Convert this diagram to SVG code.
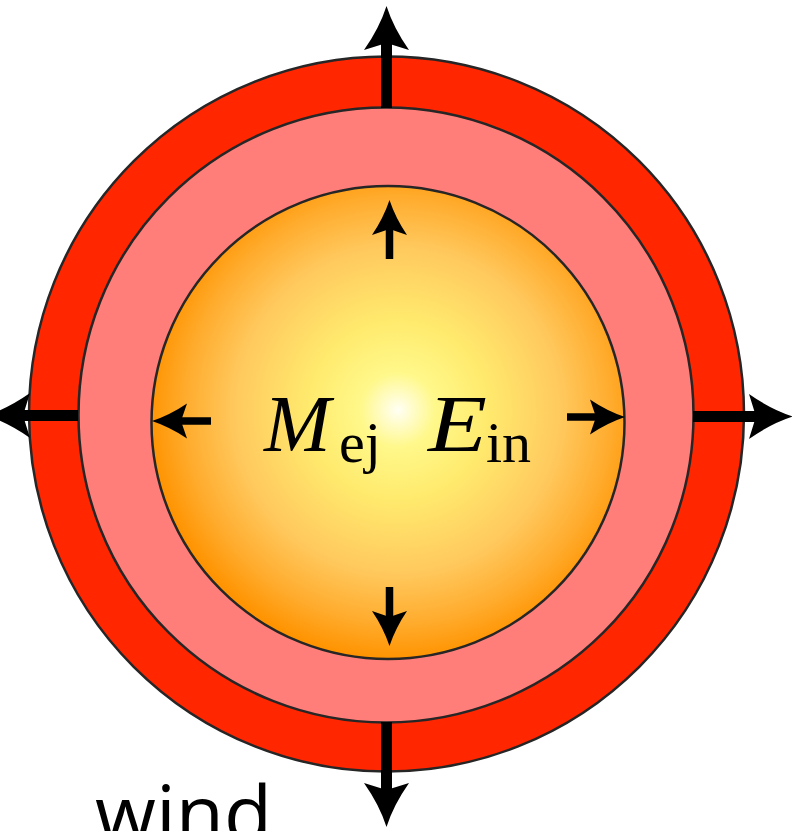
<svg xmlns="http://www.w3.org/2000/svg" xmlns:xlink="http://www.w3.org/1999/xlink" width="792" height="831" viewBox="0 0 792 831">
  <style>
    .ring { stroke: #262626; stroke-width: 2.5; }
    .shaftO { stroke: #000; stroke-width: 11; fill: none; }
    .shaftI { stroke: #000; stroke-width: 7.5; fill: none; }
    .head { fill: #000; }
    .math { font-family: "Liberation Serif", "DejaVu Serif", serif; fill: #000; }
    .it { font-style: italic; }
    .lbl { font-family: "Open Sans", "DejaVu Sans", sans-serif; fill: #000; }
  </style>
  <defs>
    <radialGradient id="coreGrad" cx="398" cy="410" r="250" gradientUnits="userSpaceOnUse">
      <stop offset="0" stop-color="#FFFFF4"/>
      <stop offset="0.15" stop-color="#FFF88A"/>
      <stop offset="0.35" stop-color="#FFEB6E"/>
      <stop offset="0.65" stop-color="#FFC95E"/>
      <stop offset="0.85" stop-color="#FFAC2E"/>
      <stop offset="1" stop-color="#FF9300"/>
    </radialGradient>
    <path id="headO" class="head" d="M0,0 Q7,22 22.5,44 L0,37 L-22.5,44 Q-7,22 0,0 Z"/>
    <path id="headI" class="head" d="M0,0 Q6,18 17.5,35 L0,29 L-17.5,35 Q-6,18 0,0 Z"/>
  </defs>

  <g id="outer-shell">
    <circle class="ring" cx="386.5" cy="414" r="357.5" fill="#FF2600"/>
  </g>
  <g id="middle-shell">
    <circle class="ring" cx="386" cy="415" r="307.5" fill="#FF7E79"/>
  </g>
  <g id="core">
    <circle class="ring" cx="388" cy="422.5" r="236.5" fill="url(#coreGrad)"/>
  </g>

  <g id="connectors">
    <line class="shaftO" x1="386.5" y1="108" x2="386.5" y2="42"/>
    <use xlink:href="#headO" href="#headO" transform="translate(386.5,6)"/>
    <line class="shaftO" x1="386.5" y1="722" x2="386.5" y2="791"/>
    <use xlink:href="#headO" href="#headO" transform="translate(386.5,827) rotate(180)"/>
    <line class="shaftO" x1="78" y1="415.5" x2="22" y2="415.5"/>
    <use xlink:href="#headO" href="#headO" transform="translate(-14,415.5) rotate(-90)"/>
    <line class="shaftO" x1="693" y1="416.5" x2="757" y2="416.5"/>
    <use xlink:href="#headO" href="#headO" transform="translate(793,416.5) rotate(90)"/>
    <line class="shaftI" x1="389.5" y1="259" x2="389.5" y2="228"/>
    <use xlink:href="#headI" href="#headI" transform="translate(389.5,200)"/>
    <line class="shaftI" x1="389.5" y1="587" x2="389.5" y2="618"/>
    <use xlink:href="#headI" href="#headI" transform="translate(389.5,646) rotate(180)"/>
    <line class="shaftI" x1="211" y1="421" x2="180" y2="421"/>
    <use xlink:href="#headI" href="#headI" transform="translate(152,421) rotate(-90)"/>
    <line class="shaftI" x1="567" y1="417" x2="597" y2="417"/>
    <use xlink:href="#headI" href="#headI" transform="translate(625,417) rotate(90)"/>
  </g>

  <g id="label-mej">
    <text class="math it" x="264" y="451" font-size="80">M</text>
    <text class="math" x="339" y="462" font-size="58">ej</text>
  </g>
  <g id="label-ein">
    <text class="math it" x="428" y="451" font-size="80" textLength="59" lengthAdjust="spacingAndGlyphs">E</text>
    <text class="math" x="486" y="462" font-size="58">in</text>
  </g>
  <g id="label-wind">
    <text class="lbl" x="95" y="841" font-size="77" textLength="177" lengthAdjust="spacingAndGlyphs">wind</text>
  </g>
</svg>
